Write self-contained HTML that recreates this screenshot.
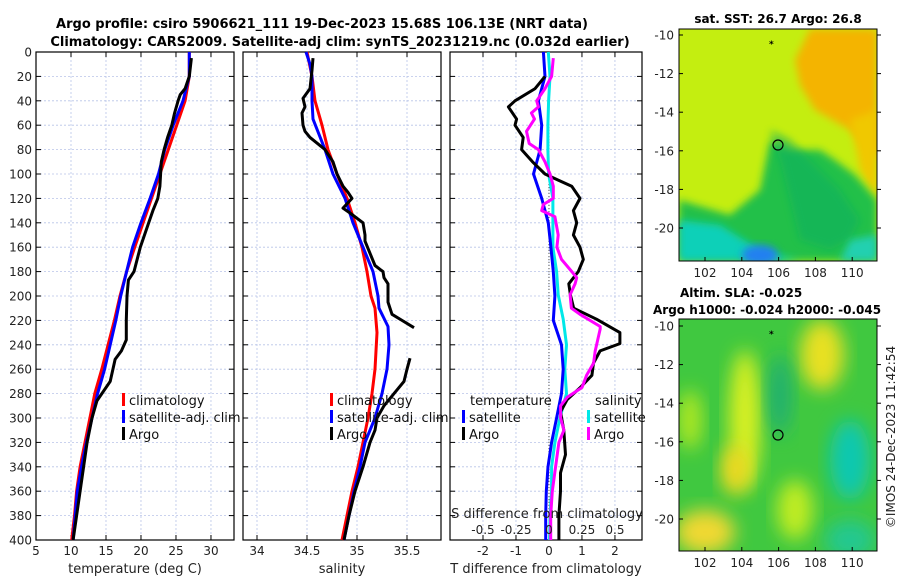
<!DOCTYPE html>
<html><head><meta charset="utf-8"><style>
body{margin:0;background:#fff;}
svg{display:block;font-family:"DejaVu Sans","Liberation Sans",sans-serif;}
</style></head><body>
<svg id="chart" width="900" height="580" viewBox="0 0 900 580" xmlns="http://www.w3.org/2000/svg">
<defs>
<filter id="blur1" x="-30%" y="-30%" width="160%" height="160%"><feGaussianBlur stdDeviation="4"/></filter>
<filter id="blur2" x="-30%" y="-30%" width="160%" height="160%"><feGaussianBlur stdDeviation="9"/></filter>
<clipPath id="cm1"><rect x="679" y="29" width="198" height="232"/></clipPath>
<clipPath id="cm2"><rect x="679" y="319" width="198" height="232"/></clipPath>
</defs>
<text x="322" y="28" text-anchor="middle" font-size="13" font-weight="bold">Argo profile: csiro 5906621_111 19-Dec-2023 15.68S 106.13E (NRT data)</text>
<text x="340" y="46" text-anchor="middle" font-size="13" font-weight="bold">Climatology: CARS2009. Satellite-adj clim: synTS_20231219.nc (0.032d earlier)</text>
<g id="panels"></g>
<g id="maps">
 <g clip-path="url(#cm1)">
  <rect x="679" y="29" width="198" height="232" fill="#c4ee10"/>
  <path d="M810 29 L877 29 L877 160 L850 130 L815 110 L800 85 L795 60 Z" fill="#f4b400" filter="url(#blur1)"/>
  <path d="M850 120 L877 110 L877 200 L860 170 Z" fill="#f0c800" filter="url(#blur1)"/>
  <path d="M679 200 L730 215 L760 190 L770 140 L790 150 L820 150 L835 160 L855 175 L877 200 L877 261 L679 261 Z" fill="#22c04a" filter="url(#blur1)"/>
  <path d="M770 130 L780 160 L790 200 L800 240 L830 250 L850 240 L860 220 L840 190 L820 170 L790 140 Z" fill="#10b060" filter="url(#blur1)" opacity="0.6"/>
  <path d="M679 220 L720 225 L760 250 L800 261 L679 261 Z" fill="#10d0b8" filter="url(#blur1)"/>
  <ellipse cx="760" cy="255" rx="18" ry="10" fill="#2080f0" filter="url(#blur1)"/>
  <path d="M850 240 L877 235 L877 261 L840 261 Z" fill="#20d0b0" filter="url(#blur1)"/>
  <circle cx="778" cy="145" r="5" fill="none" stroke="#000" stroke-width="1.2"/>
  <text x="769" y="47" font-size="9" font-weight="bold">*</text>
 </g>
 <rect x="679" y="29" width="198" height="232" fill="none" stroke="#000" stroke-width="1"/>
 <g clip-path="url(#cm2)">
  <rect x="679" y="319" width="198" height="232" fill="#40c840"/>
  <ellipse cx="745" cy="420" rx="16" ry="70" fill="#d8f020" filter="url(#blur2)"/>
  <ellipse cx="735" cy="470" rx="14" ry="25" fill="#f0d820" filter="url(#blur2)"/>
  <ellipse cx="822" cy="355" rx="22" ry="35" fill="#e8e020" filter="url(#blur2)"/>
  <ellipse cx="705" cy="532" rx="30" ry="22" fill="#f0d830" filter="url(#blur2)"/>
  <ellipse cx="795" cy="510" rx="18" ry="30" fill="#c0ec20" filter="url(#blur2)"/>
  <ellipse cx="690" cy="420" rx="12" ry="30" fill="#b0e820" filter="url(#blur2)"/>
  <ellipse cx="850" cy="460" rx="20" ry="40" fill="#10c8b0" filter="url(#blur2)"/>
  <ellipse cx="780" cy="395" rx="12" ry="40" fill="#20b070" filter="url(#blur2)"/>
  <ellipse cx="850" cy="540" rx="25" ry="20" fill="#20c890" filter="url(#blur2)"/>
  <circle cx="778" cy="435" r="5" fill="none" stroke="#000" stroke-width="1.2"/>
  <text x="769" y="337" font-size="9" font-weight="bold">*</text>
 </g>
 <rect x="679" y="319" width="198" height="232" fill="none" stroke="#000" stroke-width="1"/>
 <text x="778" y="23" text-anchor="middle" font-size="12" font-weight="bold">sat. SST: 26.7 Argo: 26.8</text>
 <text x="680" y="297" font-size="12" font-weight="bold">Altim. SLA: -0.025</text>
 <text x="653" y="314" font-size="12" font-weight="bold">Argo h1000: -0.024 h2000: -0.045</text>
 <text transform="translate(895,437) rotate(-90)" text-anchor="middle" font-size="12" fill="#222">©IMOS 24-Dec-2023 11:42:54</text>
</g>
</svg>
<script>
// ---------- Panel 1: temperature ----------
const tClimDepth=[0,20,40,60,80,100,120,140,160,180,200,220,240,260,280,300,320,340,360,380,400];
const tClimVal=[26.9,26.9,26.3,25.1,23.9,22.7,21.5,20.3,19.1,17.95,17.0,16.2,15.3,14.4,13.4,12.7,12.0,11.3,10.8,10.5,10.1];
const tSatDepth=[0,20,40,60,80,100,120,140,160,180,200,220,240,260,280,300,320,340,360,380,400];
const tSatVal=[26.9,26.9,26.0,24.6,23.4,22.5,21.3,20.0,18.8,17.95,17.1,16.4,15.6,14.8,13.8,13.0,12.2,11.5,10.9,10.6,10.3];
const tArgoDepth=[5,20,30,35,40,50,60,70,80,90,100,110,120,130,140,160,180,187,200,220,236,245,252,270,286,300,320,340,360,380,400];
const tArgoVal=[27.2,26.9,26.3,25.6,25.3,24.8,24.4,23.8,23.3,22.9,22.8,22.7,22.4,21.7,21.1,19.9,19.0,18.2,18.0,17.9,17.9,17.2,16.3,15.6,13.7,13.0,12.3,11.8,11.3,10.8,10.3];
// ---------- Panel 2: salinity ----------
const sClimDepth=[0,20,40,60,80,100,120,140,160,180,200,210,230,260,280,300,320,340,360,380,400];
const sClimVal=[34.50,34.55,34.58,34.65,34.71,34.80,34.90,34.98,35.05,35.10,35.14,35.18,35.20,35.18,35.15,35.11,35.06,35.01,34.95,34.90,34.85];
const sSatDepth=[0,10,20,40,55,80,100,120,140,160,180,200,210,225,240,260,280,300,320,340,360,380,400];
const sSatVal=[34.49,34.53,34.55,34.55,34.56,34.68,34.76,34.88,34.96,35.06,35.16,35.21,35.22,35.31,35.32,35.30,35.25,35.18,35.08,35.03,34.97,34.92,34.87];
const sArgoDepth1=[5,15,30,38,45,50,60,65,70,80,90,100,110,115,120,128,132,140,150,155,165,175,180,185,190,205,215,220,226];
const sArgoVal1=[34.56,34.55,34.53,34.46,34.48,34.45,34.46,34.48,34.53,34.68,34.76,34.80,34.86,34.91,34.95,34.86,34.93,35.06,35.08,35.08,35.13,35.18,35.26,35.27,35.31,35.31,35.35,35.45,35.57];
const sArgoDepth2=[251,260,270,280,290,300,310,320,340,360,380,400];
const sArgoVal2=[35.53,35.50,35.47,35.37,35.27,35.20,35.18,35.13,35.06,34.98,34.92,34.87];
// ---------- Panel 3: differences ----------
const dTSatDepth=[0,20,40,60,80,100,120,140,160,180,200,220,240,260,280,300,320,340,360,380,400];
const dTSatVal=[-0.17,-0.12,-0.32,-0.22,-0.27,-0.47,-0.22,-0.02,0.06,0.13,0.18,0.13,0.38,0.43,0.38,0.23,0.08,-0.03,-0.08,-0.1,-0.1];
const dTArgoDepth=[20,30,40,45,55,60,70,80,90,100,105,110,120,130,140,150,160,170,180,190,199,210,219,230,239,245,255,265,275,285,295,310,330,345,360,380,400];
const dTArgoVal=[-0.12,-0.42,-1.03,-1.23,-0.98,-1.03,-0.78,-0.83,-0.5,-0.12,0.28,0.69,0.94,0.74,0.84,0.74,0.94,1.04,0.89,0.6,0.65,0.75,1.44,2.15,2.15,1.55,1.35,1.3,0.95,0.55,0.35,0.45,0.5,0.35,0.35,0.3,0.3];
const dSSatDepth=[0,20,40,60,80,100,120,140,160,180,199,219,240,260,280,300,320,340,360,380,400];
const dSSatVal=[-0.005,0.008,-0.003,-0.008,-0.008,-0.003,0.03,0.03,0.03,0.058,0.07,0.108,0.133,0.12,0.133,0.083,0.045,0.02,0.02,0.008,0.005];
const dSArgoDepth=[5,20,30,40,45,50,55,65,75,80,90,100,110,120,125,130,135,150,160,170,180,185,190,199,210,215,225,227,245,255,265,275,283,290,300,310,320,340,360,380,400];
const dSArgoVal=[0.033,0.02,-0.03,-0.093,-0.08,-0.133,-0.11,-0.17,-0.15,-0.08,-0.03,0.008,0.033,0.033,-0.043,-0.055,0.045,0.07,0.06,0.095,0.173,0.21,0.198,0.16,0.17,0.235,0.388,0.388,0.35,0.338,0.285,0.25,0.138,0.088,0.088,0.113,0.075,0.05,0.025,0.013,0.013];

const NS='http://www.w3.org/2000/svg';
const root=document.getElementById('panels');
const Y0=52,Y1=540;
function yScale(d){return Y0+(d/400)*(Y1-Y0);}
function mk(tag,attrs,parent){const e=document.createElementNS(NS,tag);for(const k in attrs)e.setAttribute(k,attrs[k]);(parent||root).appendChild(e);return e;}
const panels=[
 {x0:36,x1:234,dmin:5,dmax:33.29,ticks:[5,10,15,20,25,30],labels:['5','10','15','20','25','30'],title:'temperature (deg C)',name:'temperature-panel'},
 {x0:243,x1:441,dmin:33.86,dmax:35.84,ticks:[34,34.5,35,35.5],labels:['34','34.5','35','35.5'],title:'salinity',name:'salinity-panel'},
 {x0:450,x1:642,dmin:-3,dmax:2.82,ticks:[-2,-1,0,1,2],labels:['-2','-1','0','1','2'],title:'T difference from climatology',name:'difference-panel'}
];
function xs(p,v){return p.x0+(v-p.dmin)/(p.dmax-p.dmin)*(p.x1-p.x0);}
const depthTicks=[0,20,40,60,80,100,120,140,160,180,200,220,240,260,280,300,320,340,360,380,400];
panels.forEach((p,i)=>{
 const g=mk('g',{});
 
 
 depthTicks.forEach(d=>{
  const y=yScale(d);
  const gl=mk('line',{x1:p.x0,x2:p.x1,y1:y,y2:y,stroke:'#b8c4e8','stroke-width':0.8,'stroke-dasharray':'2,2'},g);
  
  
  mk('line',{x1:p.x0,x2:p.x0+5,y1:y,y2:y,stroke:'#000'},g);
  mk('line',{x1:p.x1,x2:p.x1-5,y1:y,y2:y,stroke:'#000'},g);
  if(i===0){const t=mk('text',{x:p.x0-4,y:y+4.5,'text-anchor':'end','font-size':12,fill:'#222'},g);t.textContent=d;
   
   }
 });
 p.ticks.forEach((v,k)=>{
  const x=xs(p,v);
  const gl=mk('line',{x1:x,x2:x,y1:Y0,y2:Y1,stroke:'#b8c4e8','stroke-width':0.8,'stroke-dasharray':'2,2'},g);
  
  
  mk('line',{x1:x,x2:x,y1:Y1,y2:Y1-5,stroke:'#000'},g);
  mk('line',{x1:x,x2:x,y1:Y0,y2:Y0+5,stroke:'#000'},g);
  const t=mk('text',{x:x,y:555,'text-anchor':'middle','font-size':12,fill:'#222'},g);t.textContent=p.labels[k];
  
  
 });
 const tt=mk('text',{x:(p.x0+p.x1)/2,y:573,'text-anchor':'middle','font-size':13,fill:'#222'},g);tt.textContent=p.title;
 
 
 mk('rect',{x:p.x0,y:Y0,width:p.x1-p.x0,height:Y1-Y0,fill:'none',stroke:'#000','stroke-width':1.2},g);
});
const zl=mk('line',{x1:xs(panels[2],0),x2:xs(panels[2],0),y1:Y0,y2:Y1,stroke:'#555','stroke-width':1,'stroke-dasharray':'1,2'});



function line(p,depths,vals,color,name,scale){
 const pts=depths.map((d,i)=>xs(p,vals[i]*(scale||1)).toFixed(1)+','+yScale(d).toFixed(1)).join(' ');
 const pl=mk('polyline',{points:pts,fill:'none',stroke:color,'stroke-width':3,'stroke-linejoin':'round'});
 
 
}
line(panels[0],tClimDepth,tClimVal,'#ff0000','temperature-climatology-line');
line(panels[0],tSatDepth,tSatVal,'#0000ff','temperature-satellite-line');
line(panels[0],tArgoDepth,tArgoVal,'#000000','temperature-argo-line');
line(panels[1],sClimDepth,sClimVal,'#ff0000','salinity-climatology-line');
line(panels[1],sSatDepth,sSatVal,'#0000ff','salinity-satellite-line');
line(panels[1],sArgoDepth1,sArgoVal1,'#000000','salinity-argo-line-upper');
line(panels[1],sArgoDepth2,sArgoVal2,'#000000','salinity-argo-line-lower');
line(panels[2],dSSatDepth,dSSatVal,'#00e8e8','salinity-diff-satellite-line',4);
line(panels[2],dTSatDepth,dTSatVal,'#0000ff','temperature-diff-satellite-line');
line(panels[2],dTArgoDepth,dTArgoVal,'#000000','temperature-diff-argo-line');
line(panels[2],dSArgoDepth,dSArgoVal,'#ff00ff','salinity-diff-argo-line',4);

function legend(x,y,items){
 items.forEach((it,i)=>{
  const yy=y+i*17;
  const b=mk('rect',{x:x,y:yy-10,width:3,height:13,fill:it[1]});
  
  
  const t=mk('text',{x:x+7,y:yy+2,'font-size':13,fill:'#111'});t.textContent=it[0];
  
  
 });
}
legend(122,403,[['climatology','#ff0000'],['satellite-adj. clim','#0000ff'],['Argo','#000000']]);
legend(330,403,[['climatology','#ff0000'],['satellite-adj. clim','#0000ff'],['Argo','#000000']]);
const lt=mk('text',{x:470,y:405,'font-size':13,fill:'#111'});lt.textContent='temperature';


const ls=mk('text',{x:595,y:405,'font-size':13,fill:'#111'});ls.textContent='salinity';


legend(462,420,[['satellite','#0000ff'],['Argo','#000000']]);
legend(587,420,[['satellite','#00e8e8'],['Argo','#ff00ff']]);
const sTicks=[-0.5,-0.25,0,0.25,0.5];
const sLabels=['-0.5','-0.25','0','0.25','0.5'];
sTicks.forEach((v,k)=>{
 const t=mk('text',{x:xs(panels[2],v*4),y:534,'text-anchor':'middle','font-size':12,fill:'#222'});t.textContent=sLabels[k];
 
 
});
const st=mk('text',{x:547,y:518,'text-anchor':'middle','font-size':13,fill:'#222'});st.textContent='S difference from climatology';



const mapLon=[102,104,106,108,110];
const mapLat=[-10,-12,-14,-16,-18,-20];
const maps=document.getElementById('maps');
function mapAxes(top,latY10,name){
 mapLon.forEach(lo=>{
  const x=705+(lo-102)*18.4;
  mk('line',{x1:x,x2:x,y1:top+232,y2:top+228,stroke:'#000'},maps);
  const t=mk('text',{x:x,y:top+232+16,'text-anchor':'middle','font-size':12,fill:'#222'},maps);t.textContent=lo;
  
  
 });
 mapLat.forEach(la=>{
  const y=latY10+(-10-la)*19.3;
  mk('line',{x1:679,x2:683,y1:y,y2:y,stroke:'#000'},maps);
  mk('line',{x1:877,x2:881,y1:y,y2:y,stroke:'#000'},maps);
  const t=mk('text',{x:674,y:y+4.5,'text-anchor':'end','font-size':12,fill:'#222'},maps);t.textContent=la;
  
  
 });
}
mapAxes(29,35,'sst-map');
mapAxes(319,326,'sla-map');
</script>
</body></html>
